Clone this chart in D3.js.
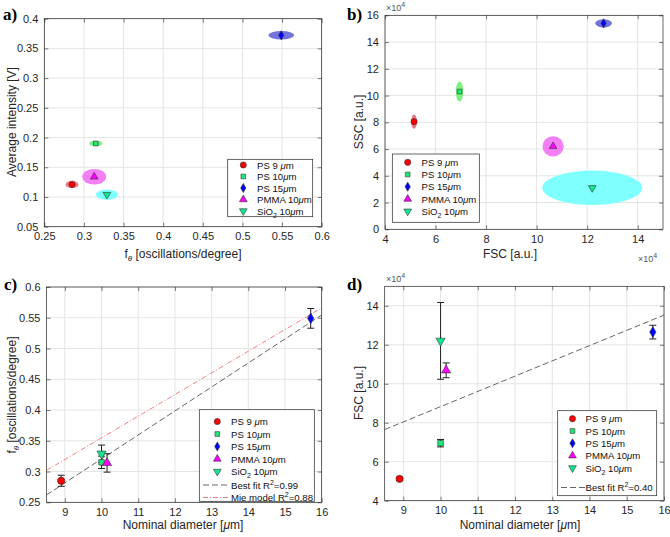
<!DOCTYPE html>
<html><head><meta charset="utf-8">
<script src="https://cdn.jsdelivr.net/npm/d3@7"></script>
<style>
body{margin:0;background:#fff;}
svg{font-family:"Liberation Sans",Arial,Helvetica,sans-serif;}
</style></head>
<body><svg id="c" width="670" height="537"></svg>
<script>
// ---------- DATA ----------
const species = ["PS 9 \u03bcm","PS 10\u03bcm","PS 15\u03bcm","PMMA 10\u03bcm","SiO2 10\u03bcm"];
// panel a
const aFreq      = [0.285, 0.315, 0.549, 0.313, 0.329];
const aIntensity = [0.121, 0.190, 0.372, 0.134, 0.104];
const aFreqSpread= [0.0082,0.0084,0.0161,0.0151,0.0139];
const aIntSpread = [0.0062,0.0047,0.0071,0.0130,0.0088];
// panel b (x10^4)
const bFSC       = [5.15, 6.95, 12.65, 10.65, 12.2];
const bSSC       = [8.05, 10.3, 15.4, 6.2, 3.1];
const bFSCSpread = [0.11, 0.15, 0.33, 0.42, 1.98];
const bSSCSpread = [0.54, 0.75, 0.31, 0.75, 1.29];
// panel c
const diameter   = [8.9, 10.0, 15.7, 10.15, 10.0];
const cFreq      = [0.285, 0.315, 0.549, 0.314, 0.329];
const cFreqErr   = [0.009, 0.010, 0.016, 0.015, 0.014];
const cBestFit   = [0.039, -0.0695];   // slope, intercept
const cMieModel  = [0.0352, 0.0028];
// panel d (x10^4)
const dFSC       = [5.12, 6.95, 12.65, 10.69, 12.2];
const dFSCErr    = [0.08, 0.19, 0.35, 0.38, 1.97];
const dBestFit   = [0.783, 0.995];
// ticks
const aXTicks = [0.25,0.3,0.35,0.4,0.45,0.5,0.55,0.6];
const aYTicks = [0.05,0.1,0.15,0.2,0.25,0.3,0.35,0.4];
const bXTicks = [4,6,8,10,12,14];
const bYTicks = [0,2,4,6,8,10,12,14,16];
const cXTicks = [9,10,11,12,13,14,15,16];
const cYTicks = [0.25,0.3,0.35,0.4,0.45,0.5,0.55,0.6];
const dXTicks = [9,10,11,12,13,14,15,16];
const dYTicks = [4,6,8,10,12,14];

// ---------- STYLE ----------
const markerColor = ["#ff0000","#1ee878","#0000ff","#ff00ff","#10e890"];
const ellipseColor= ["#e67a86","#7ef07e","#7373dc","#f47ef4","#80ffff"];
const symbols = [d3.symbolCircle, d3.symbolSquare, d3.symbolDiamond, d3.symbolTriangle, d3.symbolTriangle];
const symSize = [30, 22, 24, 26, 26];
const rot = [0,0,0,0,180];

const svg = d3.select("#c");
const axisCol = "#262626";

function panel(o){
  const g = svg.append("g");
  const x = d3.scaleLinear().domain(o.xd).range([o.x0,o.x1]);
  const y = d3.scaleLinear().domain(o.yd).range([o.y1,o.y0]);
  g.append("g").selectAll("line").data(o.xt).join("line")
    .attr("x1",d=>x(d)).attr("x2",d=>x(d)).attr("y1",o.y0).attr("y2",o.y1)
    .attr("stroke","#e4e4e4").attr("stroke-width",1);
  g.append("g").selectAll("line").data(o.yt).join("line")
    .attr("y1",d=>y(d)).attr("y2",d=>y(d)).attr("x1",o.x0).attr("x2",o.x1)
    .attr("stroke","#e4e4e4").attr("stroke-width",1);
  const ax = d3.axisBottom(x).tickValues(o.xt).tickSizeInner(-4).tickSizeOuter(0).tickPadding(6).tickFormat(d3.format("~g"));
  const ay = d3.axisLeft(y).tickValues(o.yt).tickSizeInner(-4).tickSizeOuter(0).tickPadding(6).tickFormat(d3.format("~g"));
  const axT = d3.axisTop(x).tickValues(o.xt).tickSizeInner(-4).tickSizeOuter(0).tickFormat("");
  const ayR = d3.axisRight(y).tickValues(o.yt).tickSizeInner(-4).tickSizeOuter(0).tickFormat("");
  [[ax,`translate(0,${o.y1})`],[ay,`translate(${o.x0},0)`],[axT,`translate(0,${o.y0})`],[ayR,`translate(${o.x1},0)`]].forEach(([a,t])=>{
    const s = g.append("g").attr("transform",t).call(a);
    s.select(".domain").remove();
    s.selectAll("line").attr("stroke",axisCol).attr("stroke-width",0.6);
    s.selectAll("text").attr("fill",axisCol).style("font-size","11px").style("font-family","'Liberation Sans',Arial,sans-serif");
  });
  g.append("rect").attr("x",o.x0).attr("y",o.y0).attr("width",o.x1-o.x0).attr("height",o.y1-o.y0)
    .attr("fill","none").attr("stroke",axisCol).attr("stroke-width",0.7);
  return {g,x,y};
}

function marker(g,i,cx,cy,scale){
  g.append("path").attr("d",d3.symbol().type(symbols[i]).size(symSize[i]*(scale||1))())
    .attr("transform",`translate(${cx},${cy}) rotate(${rot[i]})`)
    .attr("fill",markerColor[i]).attr("stroke","#333").attr("stroke-width",0.6);
}

function legend(g,lx,ly,w,h,ys,mx,tx,extra){
  g.append("rect").attr("x",lx).attr("y",ly).attr("width",w).attr("height",h)
    .attr("fill","#fff").attr("stroke",axisCol).attr("stroke-width",0.7);
  species.forEach((s,i)=>{
    marker(g,i,mx,ys[i]);
    const t = g.append("text").attr("x",tx).attr("y",ys[i]+3.5).attr("fill","#111").style("font-size","9.6px");
    if(i===4){
      t.append("tspan").text("SiO");
      t.append("tspan").text("2").style("font-size","7px").attr("dy",3);
      t.append("tspan").text(" 10").attr("dy",-3);
      t.append("tspan").text("\u03bc").style("font-style","italic");
      t.append("tspan").text("m");
    } else {
      const parts = s.split("\u03bc");
      t.append("tspan").text(parts[0]);
      t.append("tspan").text("\u03bc").style("font-style","italic");
      t.append("tspan").text(parts[1]);
    }
  });
  if(extra) extra.forEach(e=>{
    g.append("line").attr("x1",e.x1).attr("x2",e.x2).attr("y1",e.y).attr("y2",e.y)
      .attr("stroke",e.c).attr("stroke-width",0.9).attr("stroke-dasharray",e.dash);
    const t = g.append("text").attr("x",tx).attr("y",e.y+3.5).attr("fill","#111").style("font-size","9.6px");
    t.append("tspan").text(e.label);
    t.append("tspan").text("2").style("font-size","7px").attr("dy",-4);
    t.append("tspan").text(e.val).attr("dy",4);
  });
}

function fthetaLabel(t){
  t.append("tspan").text("f");
  t.append("tspan").text("\u03b8").style("font-size","8px").style("font-style","italic").attr("dy",3);
  t.append("tspan").text(" [oscillations/degree]").attr("dy",-3);
}
function diamLabel(t){
  t.append("tspan").text("Nominal diameter [");
  t.append("tspan").text("\u03bc").style("font-style","italic");
  t.append("tspan").text("m]");
}
function x104(x0,y0){
  const t = svg.append("text").attr("x",x0).attr("y",y0).attr("fill","#555").style("font-size","9px");
  t.append("tspan").text("\u00d710");
  t.append("tspan").text("4").style("font-size","7px").attr("dy",-4);
}
function panelLabel(s,x0,y0){
  svg.append("text").attr("x",x0).attr("y",y0).text(s)
    .style("font-family","'Liberation Serif','Times New Roman',serif").style("font-weight","bold").style("font-size","17px").attr("fill","#000");
}
function ylab(x0,cy,fn){
  const t = svg.append("text").attr("transform",`translate(${x0},${cy}) rotate(-90)`).attr("text-anchor","middle")
    .attr("fill",axisCol).style("font-size","12px");
  if(typeof fn==="string") t.text(fn); else fn(t);
}
function xlab(cx,y0,fn){
  const t = svg.append("text").attr("x",cx).attr("y",y0).attr("text-anchor","middle").attr("fill",axisCol).style("font-size","12px");
  if(typeof fn==="string") t.text(fn); else fn(t);
}

// ---------- PANEL A ----------
{
  const {g,x,y} = panel({xd:[0.25,0.6],yd:[0.05,0.4],x0:44.3,x1:321.7,y0:18.7,y1:226.7,xt:aXTicks,yt:aYTicks});
  species.forEach((s,i)=>{
    g.append("ellipse").attr("cx",x(aFreq[i])).attr("cy",y(aIntensity[i]))
      .attr("rx",x(aFreq[i]+aFreqSpread[i])-x(aFreq[i])).attr("ry",y(aIntensity[i])-y(aIntensity[i]+aIntSpread[i]))
      .attr("fill",ellipseColor[i]);
  });
  species.forEach((s,i)=>marker(g,i,x(aFreq[i]),y(aIntensity[i])));
  legend(g,227.7,159.3,85,57.4,[165,176.5,188,199.5,211],243.3,257);
  panelLabel("a)",3,20);
  ylab(16,122,"Average intensity [V]");
  xlab(183,258,fthetaLabel);
}
// ---------- PANEL B ----------
{
  const {g,x,y} = panel({xd:[4,15],yd:[0,16],x0:385,x1:663,y0:15.3,y1:229.3,xt:bXTicks,yt:bYTicks});
  species.forEach((s,i)=>{
    g.append("ellipse").attr("cx",x(bFSC[i])).attr("cy",y(bSSC[i]))
      .attr("rx",x(bFSC[i]+bFSCSpread[i])-x(bFSC[i])).attr("ry",y(bSSC[i])-y(bSSC[i]+bSSCSpread[i]))
      .attr("fill",ellipseColor[i]);
  });
  species.forEach((s,i)=>marker(g,i,x(bFSC[i]),y(bSSC[i])));
  legend(g,392.3,154,87,68.3,[162.3,174.5,186.7,199,211.3],407.7,421.5);
  panelLabel("b)",347,20);
  x104(386,11);
  x104(638,262);
  ylab(363,122,"SSC [a.u.]");
  xlab(510,258,"FSC [a.u.]");
}
// ---------- PANEL C ----------
{
  const {g,x,y} = panel({xd:[8.5,16],yd:[0.25,0.6],x0:46.5,x1:321.7,y0:287,y1:502.3,xt:cXTicks,yt:cYTicks});
  const xs = [8.5,16];
  g.append("line").attr("x1",x(xs[0])).attr("x2",x(xs[1]))
    .attr("y1",y(cBestFit[0]*xs[0]+cBestFit[1])).attr("y2",y(cBestFit[0]*xs[1]+cBestFit[1]))
    .attr("stroke","#555").attr("stroke-width",0.9).attr("stroke-dasharray","6,3");
  g.append("line").attr("x1",x(xs[0])).attr("x2",x(xs[1]))
    .attr("y1",y(cMieModel[0]*xs[0]+cMieModel[1])).attr("y2",y(cMieModel[0]*xs[1]+cMieModel[1]))
    .attr("stroke","#f07070").attr("stroke-width",0.9).attr("stroke-dasharray","5,2,1,2");
  species.forEach((s,i)=>{
    const cx = x(diameter[i]);
    const yt = y(cFreq[i]+cFreqErr[i]), yb = y(cFreq[i]-cFreqErr[i]);
    g.append("line").attr("x1",cx).attr("x2",cx).attr("y1",yt).attr("y2",yb).attr("stroke","#222").attr("stroke-width",1);
    [yt,yb].forEach(v=>g.append("line").attr("x1",cx-3.5).attr("x2",cx+3.5).attr("y1",v).attr("y2",v).attr("stroke","#222").attr("stroke-width",1));
  });
  species.forEach((s,i)=>marker(g,i,x(diameter[i]),y(cFreq[i]),1.4));
  legend(g,199.3,409.7,115,91.6,[421.5,434,446.5,459,471.5],217.3,231,
    [{x1:203,x2:230,y:485,c:"#555",dash:"6,3",label:"Best fit R",val:"=0.99"},
     {x1:203,x2:230,y:497.5,c:"#f07070",dash:"5,2,1,2",label:"Mie model R",val:"=0.88"}]);
  panelLabel("c)",4,290);
  ylab(16,395,fthetaLabel);
  xlab(183,529,diamLabel);
}
// ---------- PANEL D ----------
{
  const {g,x,y} = panel({xd:[8.5,16],yd:[4,15],x0:384.7,x1:664,y0:286.3,y1:500.7,xt:dXTicks,yt:dYTicks});
  const xs = [8.5,16];
  g.append("line").attr("x1",x(xs[0])).attr("x2",x(xs[1]))
    .attr("y1",y(dBestFit[0]*xs[0]+dBestFit[1])).attr("y2",y(dBestFit[0]*xs[1]+dBestFit[1]))
    .attr("stroke","#555").attr("stroke-width",0.9).attr("stroke-dasharray","6,3");
  species.forEach((s,i)=>{
    const cx = x(diameter[i]);
    const yt = y(dFSC[i]+dFSCErr[i]), yb = y(dFSC[i]-dFSCErr[i]);
    g.append("line").attr("x1",cx).attr("x2",cx).attr("y1",yt).attr("y2",yb).attr("stroke","#222").attr("stroke-width",1);
    [yt,yb].forEach(v=>g.append("line").attr("x1",cx-3.5).attr("x2",cx+3.5).attr("y1",v).attr("y2",v).attr("stroke","#222").attr("stroke-width",1));
  });
  species.forEach((s,i)=>marker(g,i,x(diameter[i]),y(dFSC[i]),1.4));
  legend(g,557.7,410.7,99,85,[418.7,431,443.3,455.7,468],572.5,585.5,
    [{x1:561,x2:585,y:487.5,c:"#555",dash:"6,3",label:"Best fit R",val:"=0.40"}]);
  panelLabel("d)",347,290);
  x104(386,282);
  ylab(363,393,"FSC [a.u.]");
  xlab(520,529,diamLabel);
}
</script></body></html>
